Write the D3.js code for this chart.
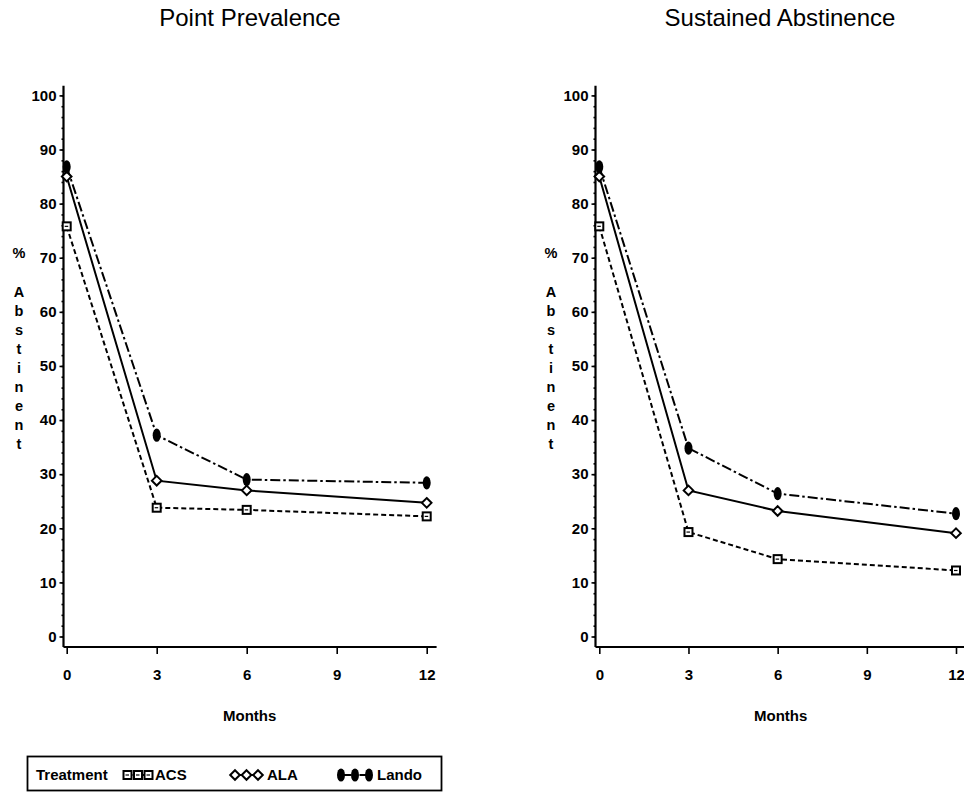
<!DOCTYPE html>
<html>
<head>
<meta charset="utf-8">
<script src="https://cdn.jsdelivr.net/npm/d3@7"></script>
<style>
  body { margin: 0; background: #fff; }
  svg { font-family: "Liberation Sans", Arial, sans-serif; }
  .tick text { font-size: 15px; font-weight: bold; fill: #000; }
  .tick line { stroke: #000; stroke-width: 1.6; }
</style>
</head>
<body>
<div class="chart"></div>
<script>
// data
var months = [0, 3, 6, 12];
var treatments = ["ACS", "ALA", "Lando"];
var yTicks = [0, 10, 20, 30, 40, 50, 60, 70, 80, 90, 100];
var xTicks = [0, 3, 6, 9, 12];

var pointACS = [75.8, 23.8, 23.4, 22.2];
var pointALA = [85.0, 28.8, 27.0, 24.7];
var pointLando = [86.8, 37.2, 29.0, 28.4];

var sustainedACS = [75.8, 19.3, 14.3, 12.2];
var sustainedALA = [85.0, 27.0, 23.2, 19.1];
var sustainedLando = [86.8, 34.8, 26.4, 22.7];

var panelTitles = ["Point Prevalence", "Sustained Abstinence"];

var svgWidth = 964, svgHeight = 792;

var svg = d3.select(".chart")
  .append("svg")
  .attr("width", svgWidth)
  .attr("height", svgHeight);

// line style per treatment
var dashes = { ACS: "5,3", ALA: null, Lando: "10,3,2.5,3" };

var yScale = d3.scaleLinear().domain([0, 100]).range([636.5, 95.4]);

var panels = [
  { title: panelTitles[0], x0: 66.7, x1: 426.7, yAxisX: 63.5, labelX: 19, titleX: 250,
    series: [pointACS, pointALA, pointLando] },
  { title: panelTitles[1], x0: 599.3, x1: 956, yAxisX: 595.5, labelX: 551, titleX: 780,
    series: [sustainedACS, sustainedALA, sustainedLando] }
];

// draw a marker for a treatment at (x, y)
function drawMarker(g, name, x, y) {
  if (name === "ACS") {
    g.append("rect")
      .attr("x", x - 4).attr("y", y - 4)
      .attr("width", 8).attr("height", 8)
      .attr("fill", "#fff").attr("stroke", "#000").attr("stroke-width", 2);
    g.append("line")
      .attr("x1", x - 2).attr("x2", x + 1.5)
      .attr("y1", y).attr("y2", y)
      .attr("stroke", "#000").attr("stroke-width", 1.2);
  } else if (name === "ALA") {
    g.append("path")
      .attr("d", `M${x},${y - 4.8}L${x + 4.8},${y}L${x},${y + 4.8}L${x - 4.8},${y}Z`)
      .attr("fill", "#fff").attr("stroke", "#000").attr("stroke-width", 2);
  } else {
    g.append("ellipse")
      .attr("cx", x).attr("cy", y)
      .attr("rx", 4).attr("ry", 6.6)
      .attr("fill", "#000");
  }
}

panels.forEach(function(p) {
  var xScale = d3.scaleLinear().domain([0, 12]).range([p.x0, p.x1]);
  var g = svg.append("g");

  // title
  g.append("text")
    .attr("x", p.titleX).attr("y", 26)
    .attr("text-anchor", "middle")
    .attr("font-size", 24)
    .text(p.title);

  // minor y ticks
  g.append("g")
    .attr("transform", `translate(${p.yAxisX}, 0)`)
    .call(d3.axisLeft(yScale).tickValues(d3.range(0, 101, 2)).tickSize(2).tickFormat(""))
    .call(a => a.select(".domain").remove());

  // major y ticks
  g.append("g")
    .attr("transform", `translate(${p.yAxisX}, 0)`)
    .call(d3.axisLeft(yScale).tickValues(yTicks).tickSize(4).tickPadding(3))
    .call(a => a.select(".domain").remove());

  // x ticks
  g.append("g")
    .attr("transform", `translate(0, 647)`)
    .call(d3.axisBottom(xScale).tickValues(xTicks).tickSize(7).tickPadding(15))
    .call(a => a.select(".domain").remove());

  // axis lines
  g.append("line")
    .attr("x1", p.yAxisX).attr("x2", p.yAxisX)
    .attr("y1", yScale(101.8)).attr("y2", 647)
    .attr("stroke", "#000").attr("stroke-width", 2.2);
  g.append("line")
    .attr("x1", p.yAxisX).attr("x2", xScale(12.33))
    .attr("y1", 647).attr("y2", 647)
    .attr("stroke", "#000").attr("stroke-width", 2.2);

  // x label
  g.append("text")
    .attr("x", (p.x0 + p.x1) / 2 + 3).attr("y", 721)
    .attr("text-anchor", "middle")
    .attr("font-size", 15).attr("font-weight", "bold")
    .text("Months");

  // stacked y label
  var letters = ["%"].concat("Abstinent".split(""));
  g.selectAll(null)
    .data(letters)
    .enter()
    .append("text")
    .attr("x", p.labelX)
    .attr("y", (d, i) => i === 0 ? 258 : 297 + (i - 1) * 19)
    .attr("text-anchor", "middle")
    .attr("font-size", 14.5).attr("font-weight", "bold")
    .text(d => d);

  // lines
  var line = d3.line()
    .x((d, i) => xScale(months[i]))
    .y(d => yScale(d));

  p.series.forEach(function(values, k) {
    var name = treatments[k];
    g.append("path")
      .datum(values)
      .attr("d", line)
      .attr("fill", "none")
      .attr("stroke", "#000")
      .attr("stroke-width", 2)
      .attr("stroke-dasharray", dashes[name]);
  });

  p.series.forEach(function(values, k) {
    var name = treatments[k];
    values.forEach(function(v, i) {
      drawMarker(g, name, xScale(months[i]), yScale(v));
    });
  });
});

// legend
var legend = svg.append("g");
legend.append("rect")
  .attr("x", 27.5).attr("y", 756.5)
  .attr("width", 414).attr("height", 34)
  .attr("fill", "none").attr("stroke", "#000").attr("stroke-width", 1.8);

legend.append("text")
  .attr("x", 36).attr("y", 780)
  .attr("font-size", 15).attr("font-weight", "bold")
  .text("Treatment");

var legendPos = {
  ACS: { from: 127.5, to: 148.5, text: 155 },
  ALA: { from: 235, to: 258, text: 267 },
  Lando: { from: 341, to: 369, text: 377 }
};
treatments.forEach(function(name) {
  var lp = legendPos[name];
  var sx = d3.scaleLinear().domain([0, 2]).range([lp.from, lp.to]);
  legend.append("line")
    .attr("x1", sx(0)).attr("x2", sx(2))
    .attr("y1", 775).attr("y2", 775)
    .attr("stroke", "#000").attr("stroke-width", 2)
    .attr("stroke-dasharray", name === "ACS" ? "3,2" : dashes[name]);
  [0, 1, 2].forEach(function(j) {
    drawMarker(legend, name, sx(j), 775);
  });
  legend.append("text")
    .attr("x", lp.text).attr("y", 780)
    .attr("font-size", 15).attr("font-weight", "bold")
    .text(name);
});
</script>
</body>
</html>
